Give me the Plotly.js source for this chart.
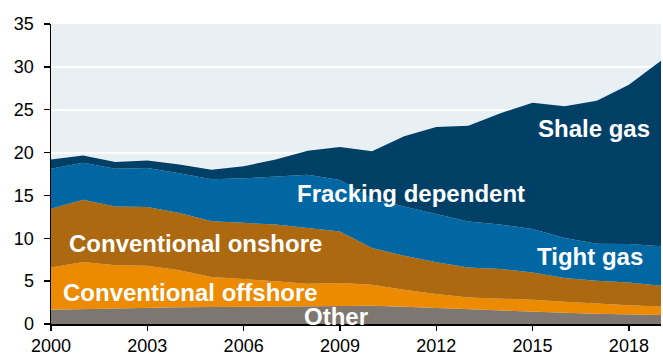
<!DOCTYPE html>
<html>
<head>
<meta charset="utf-8">
<script src="https://cdn.plot.ly/plotly-3.0.1.min.js"></script>
<style>html,body{margin:0;padding:0;background:#fff;}#chart{width:663px;height:356px;}</style>
</head>
<body>
<div id="chart"></div>
<script>
const years = [2000,2001,2002,2003,2004,2005,2006,2007,2008,2009,2010,2011,2012,2013,2014,2015,2016,2017,2018,2019];
// cumulative tops, converted to per-layer values below
const otherTop    = [1.67,1.75,1.82,1.90,1.94,1.97,1.99,2.03,2.08,2.13,2.14,2.02,1.87,1.67,1.55,1.44,1.30,1.20,1.15,1.05];
const offshoreTop = [6.60,7.24,6.85,6.80,6.26,5.49,5.25,4.98,4.70,4.79,4.59,4.00,3.50,3.10,2.95,2.84,2.60,2.37,2.20,2.05];
const onshoreTop  = [13.46,14.50,13.70,13.66,12.96,11.98,11.80,11.60,11.20,10.80,8.87,7.97,7.19,6.60,6.42,6.02,5.37,5.05,4.85,4.47];
const tightTop    = [18.10,18.80,18.10,18.20,17.60,16.90,17.00,17.20,17.40,16.80,14.60,13.70,12.80,11.97,11.60,11.08,10.03,9.37,9.33,9.06];
const totalTop    = [19.20,19.65,18.90,19.07,18.60,18.00,18.40,19.20,20.20,20.65,20.14,21.90,22.98,23.14,24.60,25.80,25.40,26.06,27.90,30.70];

const diff = (a,b) => a.map((v,i)=> +(v - (b ? b[i] : 0)).toFixed(2));
const other    = diff(otherTop);
const offshore = diff(offshoreTop, otherTop);
const onshore  = diff(onshoreTop, offshoreTop);
const tight    = diff(tightTop, onshoreTop);
const shale    = diff(totalTop, tightTop);

const seriesNames  = ['Other','Conventional offshore','Conventional onshore','Tight gas','Shale gas'];
const seriesValues = [other, offshore, onshore, tight, shale];
const colors = ['#7e7670','#ec8a00','#ad6910','#0067a3','#003f66'];

const traces = seriesValues.map((vals,i)=>({
  x: years, y: vals, name: seriesNames[i], type:'scatter', mode:'lines',
  stackgroup:'one', line:{width:0, shape:'linear'}, fillcolor: colors[i],
  hoverinfo:'skip'
}));

const lab = (text, x, y) => ({text, x, y, xref:'paper', yref:'paper', showarrow:false,
  xanchor:'center', yanchor:'middle', font:{family:'Liberation Sans, Arial, sans-serif', size:24, color:'#ffffff', weight:'bold'}});

const W = 663 - 51 - 2, H = 356 - 24 - 32;
const px = x => (x - 51) / W, py = y => 1 - (y - 24) / H;

const layout = {
  width:663, height:356,
  margin:{l:51, r:2, t:24, b:32, pad:0},
  paper_bgcolor:'#ffffff', plot_bgcolor:'#e9f0f4',
  showlegend:false,
  font:{family:'Liberation Sans, Arial, sans-serif', color:'#000'},
  xaxis:{range:[2000,2019], tickmode:'linear', tick0:2000, dtick:3, showgrid:false, zeroline:false,
    showline:true, linecolor:'#000', linewidth:1.5, ticks:'outside', ticklen:5, tickcolor:'#000', tickwidth:1.5,
    tickfont:{size:18, color:'#000'}, ticklabelstandoff:0},
  yaxis:{range:[0,35], tickmode:'linear', tick0:0, dtick:5, showgrid:true, gridcolor:'#ffffff', gridwidth:2,
    zeroline:false, showline:true, linecolor:'#000', linewidth:1.5, ticks:'outside', ticklen:6, tickcolor:'#000', tickwidth:1.5,
    tickfont:{size:18, color:'#000'}, ticklabelstandoff:6},
  annotations:[
    lab('Shale gas', px(594), py(128)),
    lab('Fracking dependent', px(411), py(193)),
    lab('Tight gas', px(590), py(256)),
    lab('Conventional onshore', px(195), py(244)),
    lab('Conventional offshore', px(190), py(292)),
    lab('Other', px(336), py(316))
  ]
};
Plotly.newPlot('chart', traces, layout, {staticPlot:true, displayModeBar:false});
</script>
</body>
</html>
